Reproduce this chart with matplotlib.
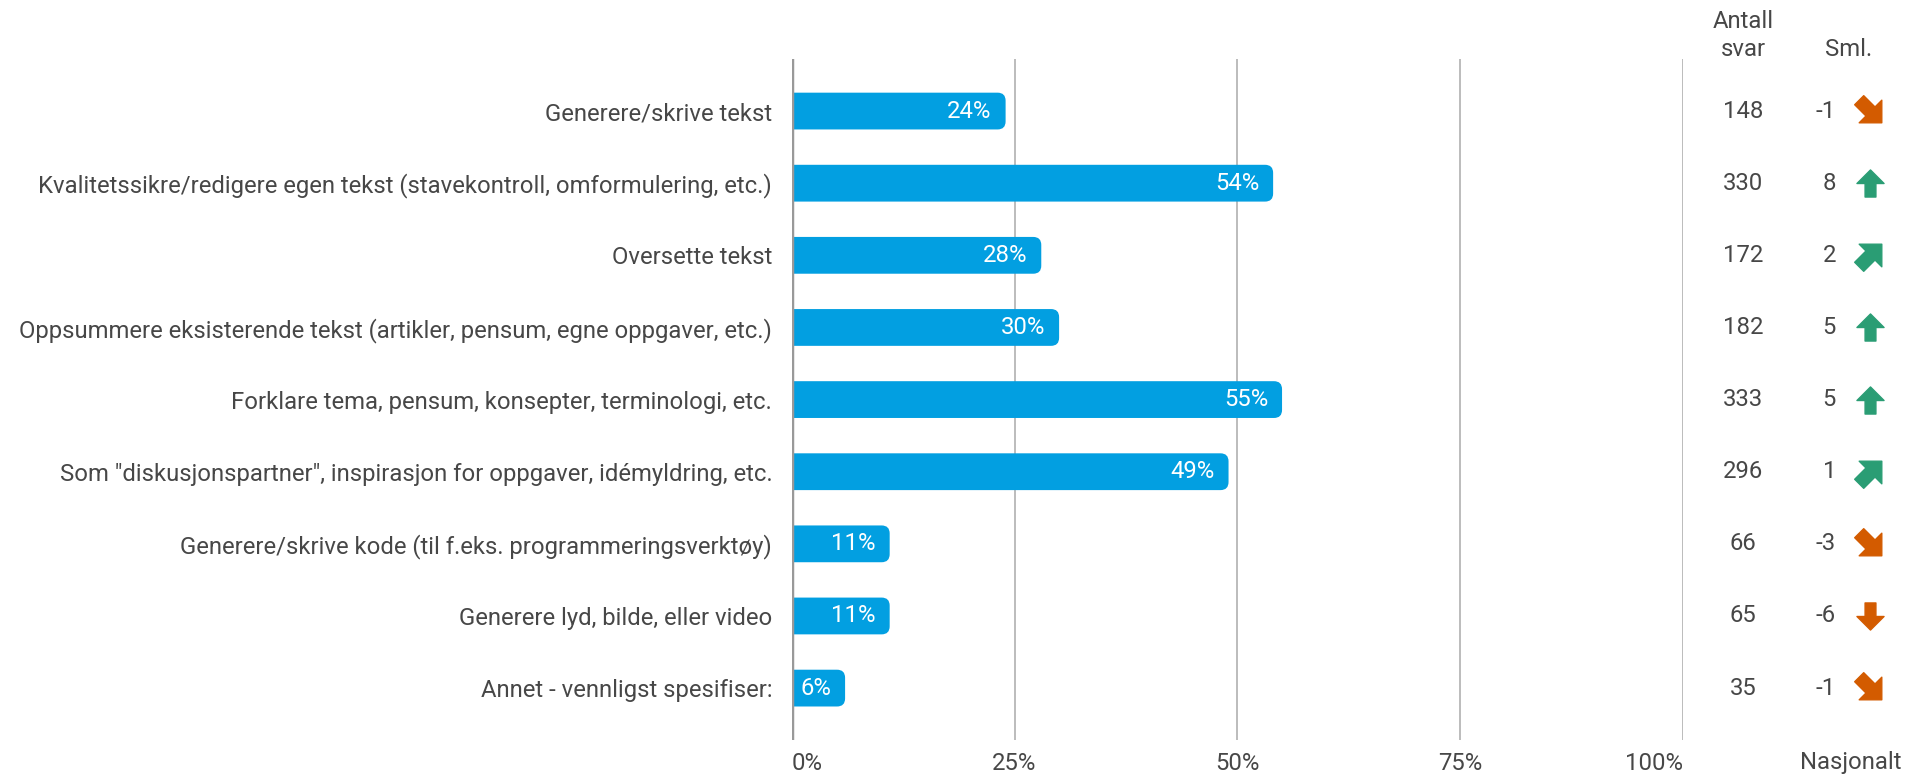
import matplotlib.pyplot as plt
from matplotlib.patches import FancyBboxPatch
from matplotlib.markers import MarkerStyle
from matplotlib.path import Path
from matplotlib.transforms import Affine2D, blended_transform_factory

plt.rcParams['font.family'] = ['Roboto', 'DejaVu Sans']

categories = [
    'Generere/skrive tekst',
    'Kvalitetssikre/redigere egen tekst (stavekontroll, omformulering, etc.)',
    'Oversette tekst',
    'Oppsummere eksisterende tekst (artikler, pensum, egne oppgaver, etc.)',
    'Forklare tema, pensum, konsepter, terminologi, etc.',
    'Som "diskusjonspartner", inspirasjon for oppgaver, idémyldring, etc.',
    'Generere/skrive kode (til f.eks. programmeringsverktøy)',
    'Generere lyd, bilde, eller video',
    'Annet - vennligst spesifiser:',
]
percent = [24, 54, 28, 30, 55, 49, 11, 11, 6]
antall = [148, 330, 172, 182, 333, 296, 66, 65, 35]
sml = [-1, 8, 2, 5, 5, 1, -3, -6, -1]
# arrow direction, degrees clockwise from "up"
arrow_dir = [135, 0, 45, 0, 0, 45, 135, 180, 135]
arrow_col = ['#d35b00', '#2a9d74', '#2a9d74', '#2a9d74', '#2a9d74', '#2a9d74', '#d35b00', '#d35b00', '#d35b00']
xticks = [0, 25, 50, 75, 100]

blue = '#029fe1'
txt = '#474747'
fs = 17.2

fig = plt.figure(figsize=(19.26, 7.78), dpi=100)
ax = fig.add_axes([0.411, 0.0488, 0.463, 0.8752])
ax.set_xlim(0, 100)
ax.set_ylim(len(categories) - 1 + 0.72, -0.72)

for x in xticks[1:]:
    ax.axvline(x, color='#b0b0b0', lw=1.2, zorder=0)
ax.axvline(0, color='#999999', lw=2.5, zorder=3)

# bars: rounded boxes starting left of 0, clipped by the axes so only the right end is round
bh = 0.51
for i, p in enumerate(percent):
    box = FancyBboxPatch((-3, i - bh / 2), p + 3, bh,
                         boxstyle='round,pad=0,rounding_size=0.9',
                         mutation_aspect=0.124, fc=blue, ec='none', zorder=2)
    ax.add_patch(box)
    ax.annotate(f'{p}%', (p, i), xytext=(-10, 0), textcoords='offset points',
                ha='right', va='center', color='white', fontsize=fs, zorder=4)

ax.set_yticks(range(len(categories)))
ax.set_yticklabels(categories, fontsize=fs, color=txt)
ax.tick_params(axis='y', length=0, pad=14)
ax.set_xticks([])
for s in ax.spines.values():
    s.set_visible(False)

xt = blended_transform_factory(ax.transData, fig.transFigure)
for x in xticks:
    ha = 'left' if x == 0 else ('right' if x == 100 else 'center')
    ax.text(x, 1 - 763 / 778, f'{x}%', transform=xt,
            ha=ha, va='center', fontsize=fs, color=txt)

# right-hand columns
tr = blended_transform_factory(fig.transFigure, ax.transData)
x_ant = 1743 / 1926
x_sml = 1836 / 1926
x_arr = 1870 / 1926

fig.text(x_ant, 1 - 21 / 778, 'Antall', ha='center', va='center', fontsize=fs, color=txt)
fig.text(x_ant, 1 - 49 / 778, 'svar', ha='center', va='center', fontsize=fs, color=txt)
fig.text(1849 / 1926, 1 - 49 / 778, 'Sml.', ha='center', va='center', fontsize=fs, color=txt)
fig.text(1851 / 1926, 1 - 763 / 778, 'Nasjonalt', ha='center', va='center', fontsize=fs, color=txt)

arrow = Path([(-0.2, -0.5), (0.2, -0.5), (0.2, 0.0), (0.5, 0.0), (0.0, 0.5),
              (-0.5, 0.0), (-0.2, 0.0), (-0.2, -0.5)], closed=True)
for i in range(len(categories)):
    ax.text(x_ant, i, str(antall[i]), transform=tr, ha='center', va='center', fontsize=fs, color=txt)
    ax.text(x_sml, i, str(sml[i]), transform=tr, ha='right', va='center', fontsize=fs, color=txt)
    m = MarkerStyle(arrow, transform=Affine2D().rotate_deg(-arrow_dir[i]))
    size = 19.5 if arrow_dir[i] in (0, 180) else 23
    ax.plot([x_arr], [i], marker=m, markersize=size, color=arrow_col[i], transform=tr,
            clip_on=False, linestyle='none')

fig.savefig('out.png', dpi=100)
